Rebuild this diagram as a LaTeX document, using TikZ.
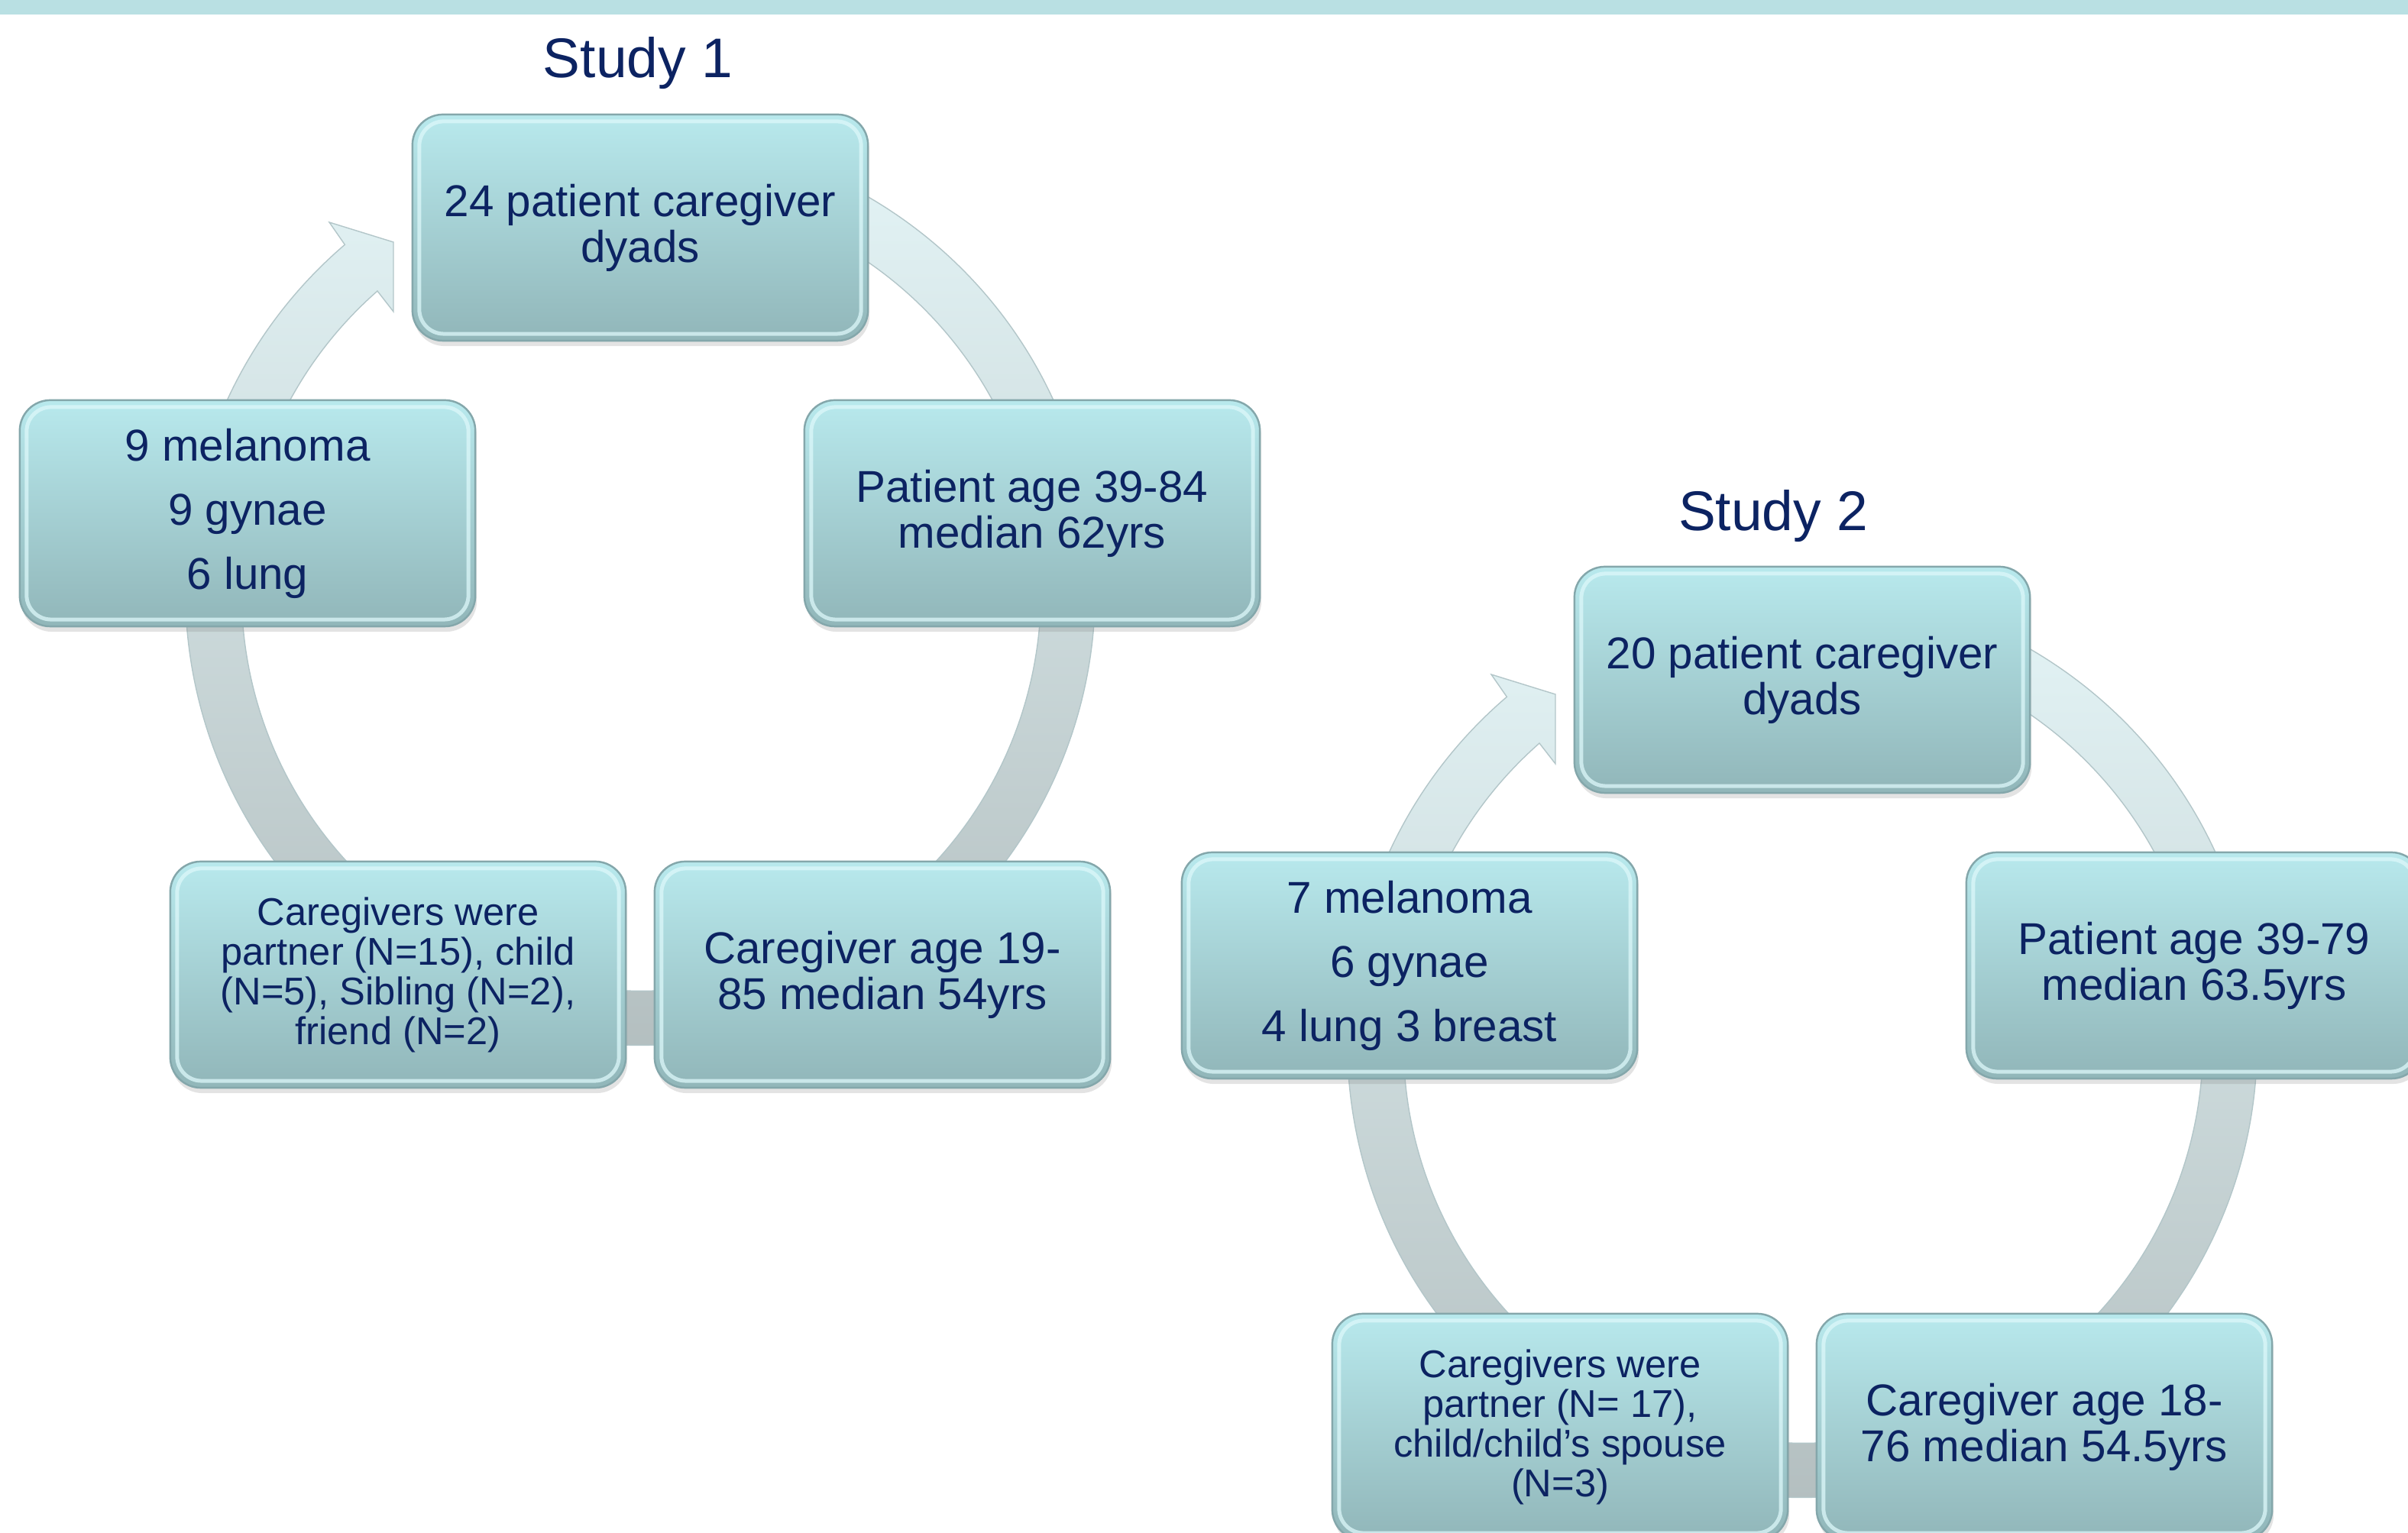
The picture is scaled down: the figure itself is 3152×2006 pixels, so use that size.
\documentclass[tikz,border=0pt]{standalone}
\usepackage{fontspec}
\setmainfont{Liberation Sans}
\usetikzlibrary{shadows}
\definecolor{navy}{HTML}{0C2362}
\definecolor{boxtop}{HTML}{B8E9ED}
\definecolor{boxbot}{HTML}{91B6B9}
\definecolor{boxedge}{HTML}{84A7AB}
\definecolor{hlc}{HTML}{DDF8FA}
\definecolor{ringtop}{HTML}{E6F7F9}
\definecolor{ringmid}{HTML}{D2DEE0}
\definecolor{ringbot}{HTML}{B2BDBE}
\definecolor{ringedge}{HTML}{B3C6C9}
\definecolor{topbar}{HTML}{B9E0E3}
\newcommand\cyclering{%
  \path[ringband] (100:5.95cm) arc[start angle=100,end angle=-229.5,radius=5.95cm]
    -- (-407,482) -- (-323,456) -- (-323,365) -- (-344,392)
    arc[start angle=-228.7,end angle=100,radius=5.23cm] -- cycle;}
\begin{document}
\begin{tikzpicture}[x=0.01cm,y=0.01cm,
  ringband/.style={top color=ringtop,middle color=ringmid,bottom color=ringbot,draw=ringedge,line width=0.4pt},
  cbox/.style={rounded corners=0.4cm,minimum width=5.96cm,minimum height=2.96cm,
    top color=boxtop,bottom color=boxbot,draw=boxedge,line width=0.7pt,
    align=center,text=navy,inner sep=0pt,
    font=\fontsize{16.6}{17.1}\selectfont,
    drop shadow={opacity=0.22,shadow xshift=0.02cm,shadow yshift=-0.07cm},
    path picture={\draw[hlc,opacity=0.75,line width=0.05cm,rounded corners=0.32cm]
      ([shift={(0.09cm,-0.09cm)}]path picture bounding box.north west) rectangle
      ([shift={(-0.09cm,0.09cm)}]path picture bounding box.south east);}},
  smallt/.style={font=\fontsize{14.4}{14.8}\selectfont},
  listt/.style={font=\fontsize{16.6}{23.9}\selectfont},
  titlet/.style={font=\fontsize{20.8}{24}\selectfont,text=navy,anchor=base}]
\useasboundingbox (0,0) rectangle (3152,2006);
\clip (0,0) rectangle (3152,2006);
\fill[topbar] (0,1987) rectangle (3152,2006);

% Study 1
\begin{scope}[shift={(838,1233)}]
  \cyclering
\end{scope}
\node[titlet] (t1) at (835,1904) {Study 1};
\node[cbox] (s1a) at (838,1708) {24 patient caregiver\\dyads};
\node[cbox] (s1b) at (1351,1334) {Patient age 39-84\\median 62yrs};
\node[cbox] (s1c) at (1155,730) {Caregiver age 19-\\85 median 54yrs};
\node[cbox,smallt] (s1d) at (521,730) {Caregivers were\\partner (N=15), child\\(N=5), Sibling (N=2),\\friend (N=2)};
\node[cbox,listt] (s1e) at (324,1334) {9 melanoma\\9 gynae\\6 lung};

% Study 2
\begin{scope}[shift={(2359,641)}]
  \cyclering
\end{scope}
\node[titlet] (t2) at (2321,1311) {Study 2};
\node[cbox] (s2a) at (2359,1116) {20 patient caregiver\\dyads};
\node[cbox] (s2b) at (2872,742) {Patient age 39-79\\median 63.5yrs};
\node[cbox] (s2c) at (2676,138) {Caregiver age 18-\\76 median 54.5yrs};
\node[cbox,smallt] (s2d) at (2042,138) {Caregivers were\\partner (N= 17),\\child/child’s spouse\\(N=3)};
\node[cbox,listt] (s2e) at (1845,742) {7 melanoma\\6 gynae\\4 lung 3 breast};
\end{tikzpicture}
\end{document}
